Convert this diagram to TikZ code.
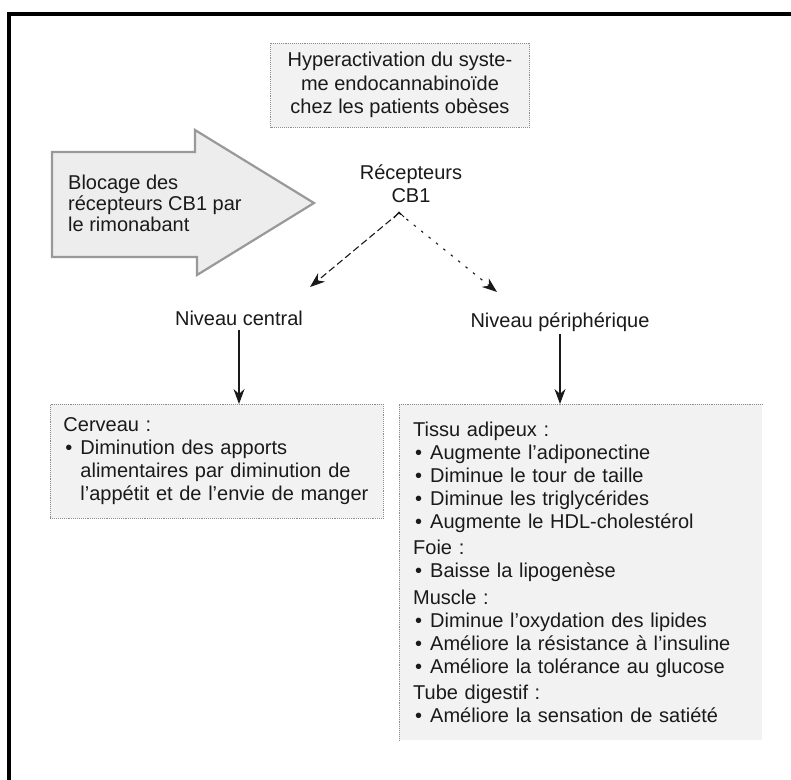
\documentclass[tikz,border=0pt]{standalone}
\usepackage{fontspec}
\setmainfont{Liberation Sans}
\usetikzlibrary{arrows.meta}
\definecolor{boxfill}{HTML}{F2F2F2}
\definecolor{boxline}{HTML}{8C8C8C}
\definecolor{arrowline}{HTML}{999999}
\definecolor{arrowfill}{HTML}{EDEDED}
\definecolor{ink}{HTML}{1A1A1A}
\newcommand\bul{\makebox[17pt][l]{\hspace{2pt}•}}
\newcommand\ind{\hspace*{17pt}}
\tikzset{
  frameline/.style={line width=3.5pt, black},
  infobox/.style={fill=boxfill, draw=boxline, densely dotted, line width=0.9pt},
  boxfillonly/.style={fill=boxfill, draw=none},
  boxborder/.style={draw=boxline, densely dotted, line width=0.9pt},
  bigarrow/.style={fill=arrowfill, draw=arrowline, line width=2.2pt, line join=miter},
  plainlabel/.style={inner sep=0pt, text=ink},
  conn/.style={draw=ink, line width=1.1pt, -{Stealth[length=15pt,width=11pt]}},
  dashconn/.style={conn, dash pattern=on 7pt off 3.5pt},
  dotconn/.style={conn, dash pattern=on 2.5pt off 7pt},
  caretmark/.style={draw=ink, line width=1pt},
}
\begin{document}
\begin{tikzpicture}[x=1pt, y=-1pt, font=\fontsize{20}{23}\selectfont, text=ink]
\useasboundingbox (0,0) rectangle (791,779);
\fill[white] (0,0) rectangle (791,779);
% outer frame
\draw[frameline] (9,781) -- (9,14) -- (793,14);

% top box
\node[infobox, minimum width=259pt, minimum height=84pt, inner sep=0pt, align=center,
      font=\fontsize{20}{23.5}\selectfont] (hyper) at (400,85)
  {Hyperactivation du syste-\\me endocannabinoïde\\chez les patients obèses};

% big block arrow
\draw[bigarrow] (52,152) -- (195,152) -- (195,130) -- (314,203) -- (197,275)
  -- (197,257) -- (52,257) -- cycle;
\node[plainlabel, anchor=west, align=left, font=\fontsize{20}{21}\selectfont] (block) at (68,203)
  {Blocage des\\récepteurs CB1 par\\le rimonabant};

% receptors
\node[plainlabel, align=center] (cb1) at (411,184) {Récepteurs\\CB1};
\coordinate (fork) at (399,213);
\coordinate (ltip) at (310,287);
\coordinate (rtip) at (497,292);
\draw[caretmark] (394,218) -- (399,212) -- (404,217);
\draw[dashconn] (fork) -- (ltip);
\draw[dotconn] (fork) -- (rtip);

% levels
\node[plainlabel] (central) at (239,318) {Niveau central};
\node[plainlabel] (periph) at (560,322) {Niveau périphérique};

% left box
\node[infobox, anchor=north west, minimum width=333pt, minimum height=114pt,
      text width=307pt, inner xsep=13pt, inner ysep=0pt, align=left] (lbox) at (50,404)
  {Cerveau :\\
   \bul Diminution des apports\\
   \ind alimentaires par diminution de\\
   \ind l’appétit et de l’envie de manger};

% right box
\node[boxfillonly, anchor=north west, minimum width=363pt, minimum height=336pt,
      text width=335pt, inner xsep=14pt, inner ysep=0pt, align=left] (rbox) at (399,404)
  {Tissu adipeux :\\
   \bul Augmente l’adiponectine\\
   \bul Diminue le tour de taille\\
   \bul Diminue les triglycérides\\
   \bul Augmente le HDL-cholestérol\\[3.5pt]
   Foie :\\
   \bul Baisse la lipogenèse\\[3.5pt]
   Muscle :\\
   \bul Diminue l’oxydation des lipides\\
   \bul Améliore la résistance à l’insuline\\
   \bul Améliore la tolérance au glucose\\[3.5pt]
   Tube digestif :\\
   \bul Améliore la sensation de satiété};
\draw[boxborder] (rbox.south west) -- (rbox.north west) -- (rbox.north east);

% vertical connectors
\draw[conn] ([yshift=-4pt]central.south) -- (central.south |- lbox.north);
\draw[conn] ([yshift=-2pt]periph.south) -- (periph.south |- rbox.north);
\end{tikzpicture}
\end{document}
